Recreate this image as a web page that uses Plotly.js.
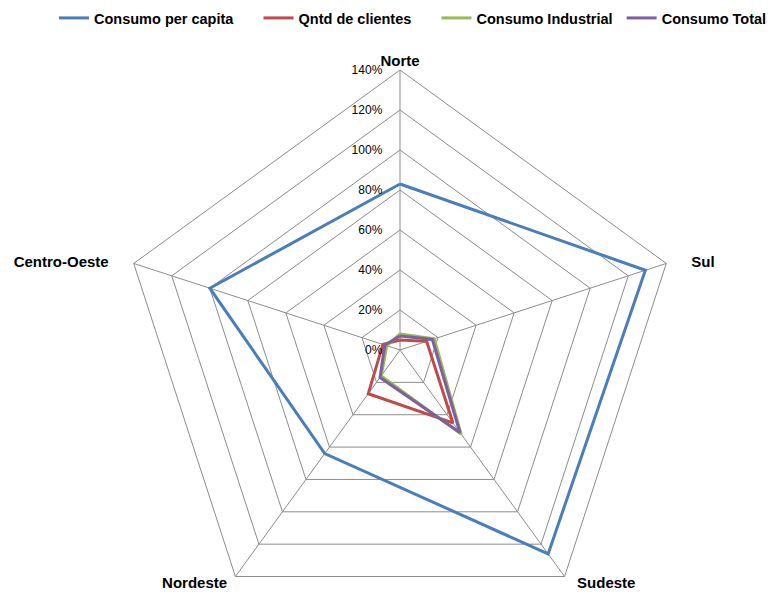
<!DOCTYPE html>
<html>
<head>
<meta charset="utf-8">
<script src="https://cdn.plot.ly/plotly-3.0.1.min.js"></script>
<style>
  html, body { margin: 0; padding: 0; background: #fff; overflow: hidden; }
  #chart { width: 772px; height: 700px; }
</style>
</head>
<body>
<div id="chart"></div>
<script>
// Regions, clockwise from the top
const regioes = ['Norte', 'Sul', 'Sudeste', 'Nordeste', 'Centro-Oeste'];

// Values in percent
const consumoPerCapita = [83, 129, 126, 64, 100];
const qtdClientes = [5, 14, 45, 27, 9];
const consumoIndustrial = [8, 18, 52, 16, 7];
const consumoTotal = [7, 17, 51, 17, 8];

const radialTicks = [0, 20, 40, 60, 80, 100, 120, 140];
const radialMax = 140;

const nbsp = '\u00a0';
const pad = n => nbsp.repeat(n);

// Where each region name sits around the outer vertex
const regiaoLabelPos = ['top center', 'middle right', 'bottom right', 'bottom left', 'middle left'];
const regiaoLabelText = ['Norte', pad(6) + 'Sul', pad(3) + 'Sudeste', 'Nordeste' + pad(2), 'Centro-Oeste' + pad(6)];

// Legend entries, with trailing space to widen the gaps between them
const series = [
  { name: 'Consumo per capita', gap: 5, values: consumoPerCapita, color: '#4A7EBB' },
  { name: 'Qntd de clientes', gap: 5, values: qtdClientes, color: '#BE4B48' },
  { name: 'Consumo Industrial', gap: 1, values: consumoIndustrial, color: '#98B954' },
  { name: 'Consumo Total', gap: 0, values: consumoTotal, color: '#7D60A0' }
];

const textFont = 'Liberation Sans, Arial, sans-serif';

const traces = series.map(s => ({
  type: 'scatterpolar',
  name: s.name + pad(s.gap),
  r: s.values.concat([s.values[0]]),
  theta: regioes.concat([regioes[0]]),
  mode: 'lines',
  line: { color: s.color, width: 3 },
  hoverinfo: 'skip'
}));

// Region names at the outer ring
traces.push({
  type: 'scatterpolar',
  r: regioes.map(() => radialMax),
  theta: regioes,
  mode: 'text',
  text: regiaoLabelText,
  textposition: regiaoLabelPos,
  textfont: { family: textFont, size: 15, color: '#000', weight: 'bold' },
  cliponaxis: false,
  showlegend: false,
  hoverinfo: 'skip'
});

const W = 772, H = 700;
const cx = 400, cy = 350, R = 280;

const layout = {
  width: W,
  height: H,
  margin: { l: 0, r: 0, t: 0, b: 0 },
  paper_bgcolor: '#ffffff',
  plot_bgcolor: '#ffffff',
  showlegend: true,
  legend: {
    orientation: 'h',
    x: 55 / W, xanchor: 'left',
    y: 1 - 18 / H, yanchor: 'middle',
    font: { family: textFont, size: 14.5, color: '#000', weight: 'bold' },
    itemwidth: 30,
    tracegroupgap: 0
  },
  polar: {
    domain: {
      x: [(cx - R) / W, (cx + R) / W],
      y: [1 - (cy + R) / H, 1 - (cy - R) / H]
    },
    bgcolor: '#ffffff',
    gridshape: 'linear',
    radialaxis: {
      range: [0, radialMax],
      tickvals: radialTicks,
      ticktext: radialTicks.map(v => v + '%'),
      angle: 90,
      tickangle: 90,
      side: 'counterclockwise',
      showline: false,
      ticks: 'outside',
      ticklen: 13,
      tickcolor: 'rgba(0,0,0,0)',
      gridcolor: '#8C8C8C',
      gridwidth: 1,
      tickfont: { family: textFont, size: 12, color: '#000' }
    },
    angularaxis: {
      rotation: 90,
      direction: 'clockwise',
      categoryarray: regioes,
      ticks: '',
      showticklabels: false,
      showline: true,
      linecolor: '#8C8C8C',
      linewidth: 1,
      gridcolor: '#8C8C8C',
      gridwidth: 1
    }
  }
};

Plotly.newPlot('chart', traces, layout, { staticPlot: true, displayModeBar: false });
</script>
</body>
</html>
